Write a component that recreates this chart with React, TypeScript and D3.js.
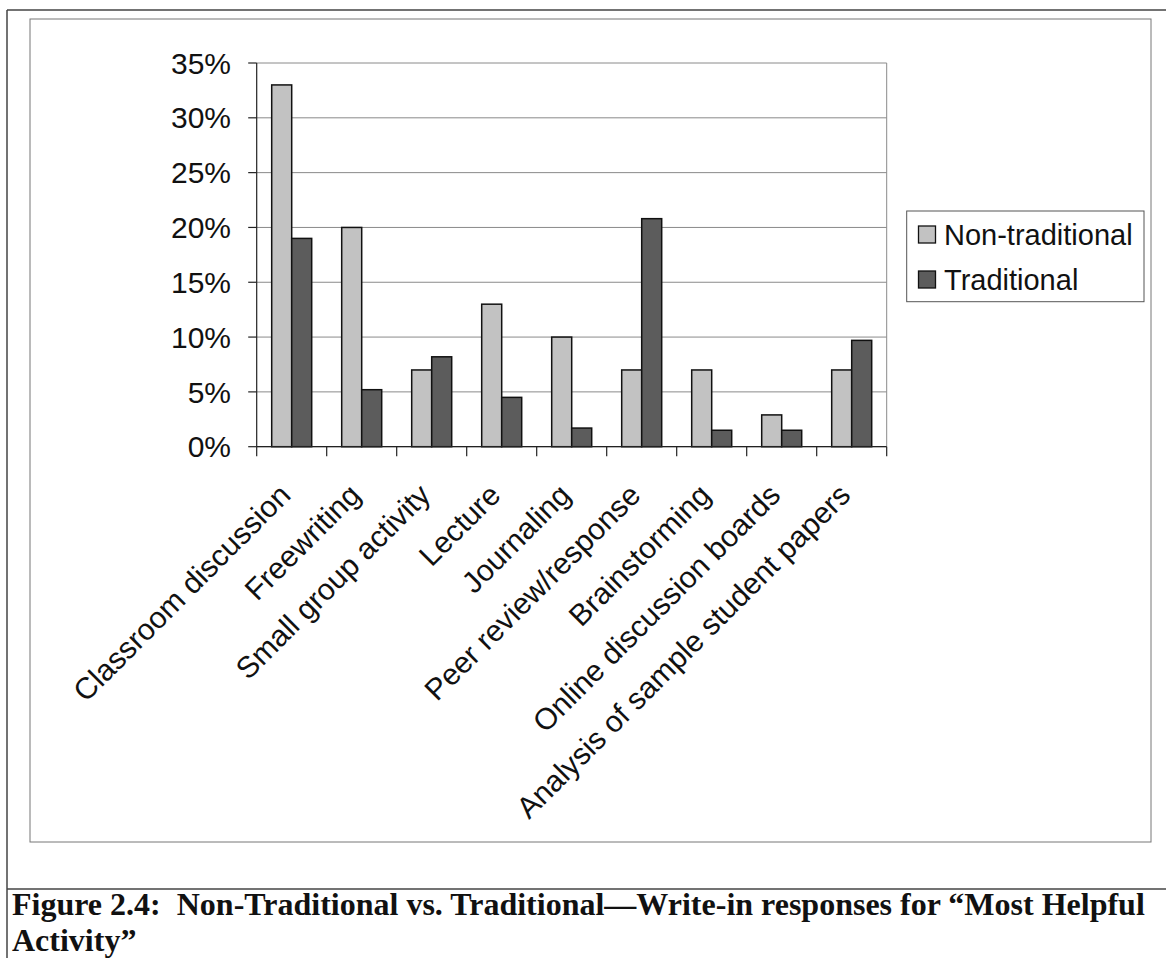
import React from "react";
import * as d3 from "d3";

const categories = [
  "Classroom discussion",
  "Freewriting",
  "Small group activity",
  "Lecture",
  "Journaling",
  "Peer review/response",
  "Brainstorming",
  "Online discussion boards",
  "Analysis of sample student papers",
];
const seriesNames = ["Non-traditional", "Traditional"];
const nonTraditional = [0.33, 0.2, 0.07, 0.13, 0.1, 0.07, 0.07, 0.029, 0.07];
const traditional = [0.19, 0.052, 0.082, 0.045, 0.017, 0.208, 0.015, 0.015, 0.097];
const yTicks = [0, 0.05, 0.1, 0.15, 0.2, 0.25, 0.3, 0.35];
const seriesColors = ["#c2c2c2", "#5c5c5c"];
const captionLine1 = "Figure 2.4:  Non-Traditional vs. Traditional\u2014Write-in responses for \u201cMost Helpful";
const captionLine2 = "Activity\u201d";

const W = 1166;
const H = 958;
const plot = { left: 256.7, right: 886.7, top: 63, bottom: 446.7 };

export default function App() {
  const x = d3.scaleBand<string>().domain(categories).range([plot.left, plot.right]).paddingInner(0).paddingOuter(0);
  const xs = d3.scaleBand<string>().domain(seriesNames).range([0, x.bandwidth()]).paddingInner(0).paddingOuter(0.75);
  const y = d3.scaleLinear().domain([0, 0.35]).range([plot.bottom, plot.top]);
  const fmt = d3.format(".0%");
  const series = [nonTraditional, traditional];
  const font = "'Liberation Sans', Arial, sans-serif";
  const serif = "'Liberation Serif', 'Times New Roman', serif";

  return (
    <svg width={W} height={H} style={{ position: "absolute", left: 0, top: 0, background: "#fff" }}>
      <rect x={0} y={0} width={W} height={H} fill="#fff" />
      {/* outer frame */}
      <line x1={7} y1={10} x2={W} y2={10} stroke="#444" strokeWidth={1.5} />
      <line x1={7} y1={10} x2={7} y2={H} stroke="#444" strokeWidth={1.5} />
      <line x1={7} y1={889} x2={W} y2={889} stroke="#444" strokeWidth={1.5} />
      {/* chart area */}
      <rect x={30} y={19} width={1121} height={823} fill="none" stroke="#777" strokeWidth={1} />
      {/* gridlines */}
      {yTicks.map((t) => (
        <line key={"g" + t} x1={plot.left} x2={plot.right} y1={y(t)} y2={y(t)} stroke="#8a8a8a" strokeWidth={1} />
      ))}
      <line x1={plot.right} x2={plot.right} y1={plot.top} y2={plot.bottom} stroke="#8a8a8a" strokeWidth={1} />
      {/* bars */}
      {categories.map((c, i) => (
        <g key={c}>
          {series.map((s, j) => (
            <rect
              key={j}
              x={(x(c) as number) + (xs(seriesNames[j]) as number)}
              y={y(s[i])}
              width={xs.bandwidth()}
              height={plot.bottom - y(s[i])}
              fill={seriesColors[j]}
              stroke="#111"
              strokeWidth={1.5}
            />
          ))}
        </g>
      ))}
      {/* axes */}
      <line x1={plot.left} x2={plot.left} y1={plot.top} y2={plot.bottom} stroke="#222" strokeWidth={1.2} />
      <line x1={plot.left} x2={plot.right} y1={plot.bottom} y2={plot.bottom} stroke="#222" strokeWidth={1.2} />
      {yTicks.map((t) => (
        <g key={"t" + t}>
          <line x1={plot.left - 8.5} x2={plot.left} y1={y(t)} y2={y(t)} stroke="#222" strokeWidth={1.2} />
          <text x={231} y={y(t)} dy="0.355em" textAnchor="end" fontFamily={font} fontSize={30} fill="#111">
            {fmt(t)}
          </text>
        </g>
      ))}
      {[...categories.map((c) => x(c) as number), plot.right].map((v, k) => (
        <line key={"xt" + k} x1={v} x2={v} y1={plot.bottom} y2={plot.bottom + 9.5} stroke="#222" strokeWidth={1.2} />
      ))}
      {categories.map((c) => {
        const cx = (x(c) as number) + x.bandwidth() / 2 + 0.5;
        const cy = 497;
        return (
          <text
            key={"l" + c}
            x={cx}
            y={cy}
            transform={`rotate(-45 ${cx} ${cy})`}
            textAnchor="end"
            fontFamily={font}
            fontSize={30}
            fill="#111"
          >
            {c}
          </text>
        );
      })}
      {/* legend */}
      <rect x={906.7} y={211} width={237.3} height={90.7} fill="#fff" stroke="#555" strokeWidth={1} />
      {seriesNames.map((n, j) => (
        <g key={n}>
          <rect x={918.5} y={226 + j * 45} width={17} height={17} fill={seriesColors[j]} stroke="#111" strokeWidth={1.3} />
          <text x={944} y={245 + j * 45} fontFamily={font} fontSize={29} fill="#111">
            {n}
          </text>
        </g>
      ))}
      {/* caption */}
      <text x={12} y={915} fontFamily={serif} fontWeight="bold" fontSize={32} fill="#111" style={{ whiteSpace: "pre" }}>
        {captionLine1}
      </text>
      <text x={12} y={951} fontFamily={serif} fontWeight="bold" fontSize={32} fill="#111">
        {captionLine2}
      </text>
    </svg>
  );
}
